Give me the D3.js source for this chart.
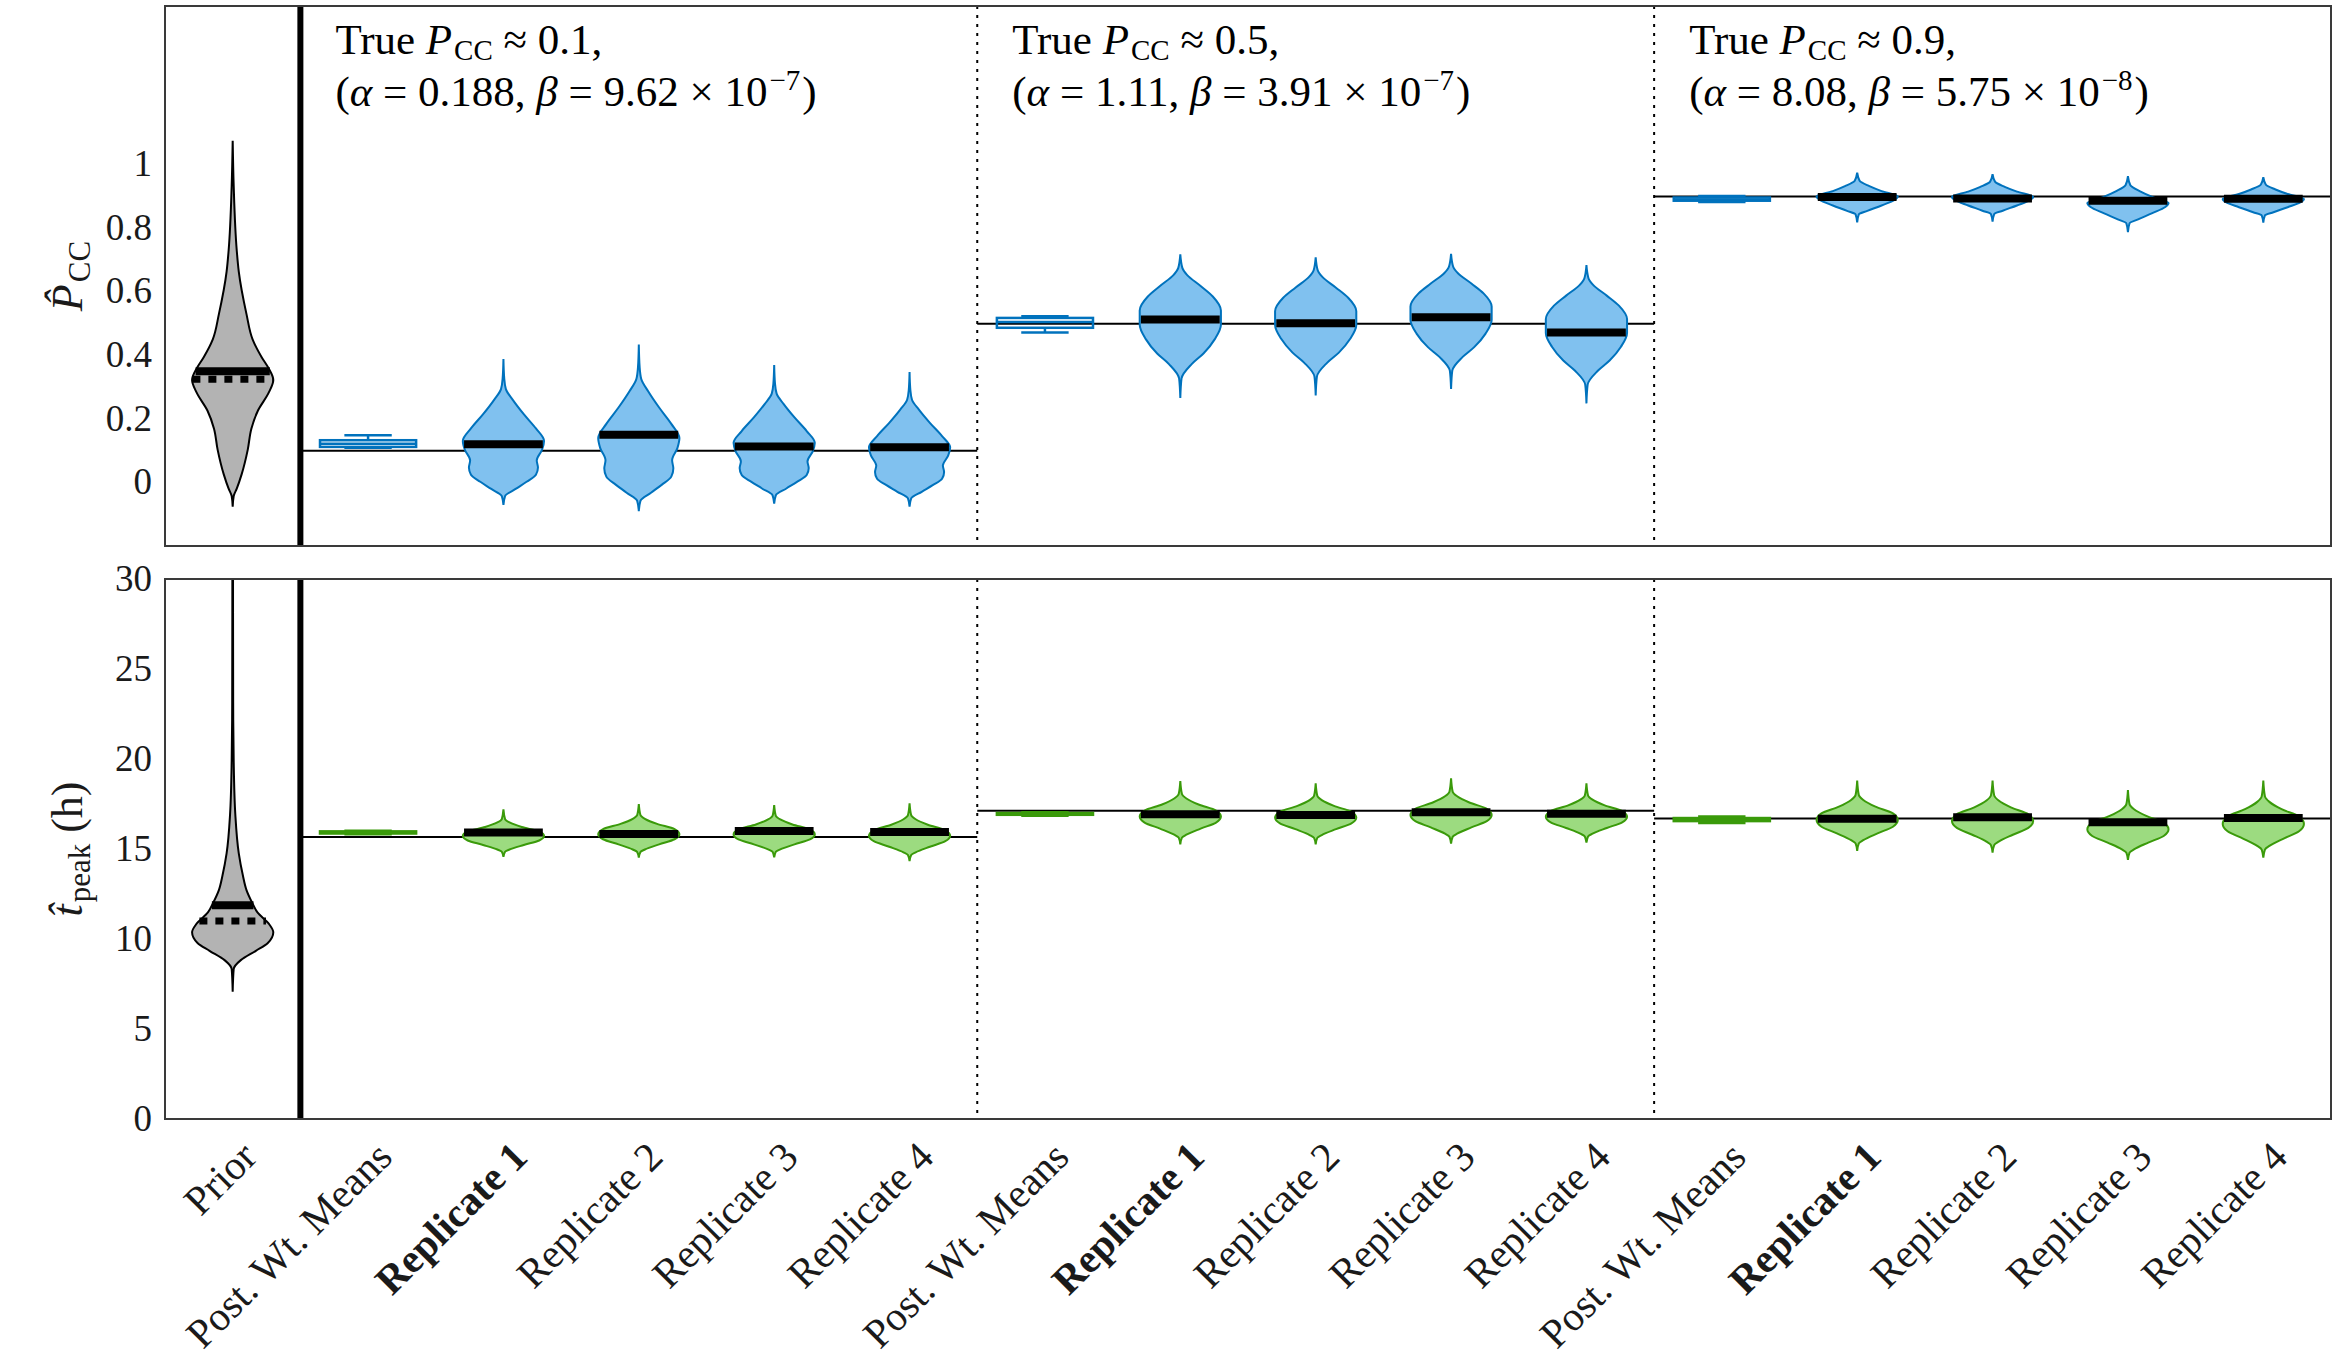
<!DOCTYPE html>
<html lang="en">
<head>
    <meta charset="UTF-8">
    <title>Violin plots of P_CC and t_peak</title>
    <style>
        body { margin: 0; background: #fff; }
        svg text { font-family: "Liberation Serif", "DejaVu Serif", serif; fill: #1a1a1a; }
        .frame { fill: none; stroke: #3a3a3a; stroke-width: 2; }
    </style>
    <script src="https://d3js.org/d3.v7.min.js"></script>
</head>
<body>
<script>
    // ---- data ----
    let categories = ["Prior",
        "Post. Wt. Means", "Replicate 1", "Replicate 2", "Replicate 3", "Replicate 4",
        "Post. Wt. Means", "Replicate 1", "Replicate 2", "Replicate 3", "Replicate 4",
        "Post. Wt. Means", "Replicate 1", "Replicate 2", "Replicate 3", "Replicate 4"];
    let boldCats = [2, 7, 12];

    let trueP = [0.1, 0.5, 0.9];
    let trueT = [15.66, 17.13, 16.70];
    let alphaText = ["0.188", "1.11", "8.08"];
    let betaMant = ["9.62", "3.91", "5.75"];
    let betaExp = ["\u22127", "\u22127", "\u22128"];

    let pTicks = [0, 0.2, 0.4, 0.6, 0.8, 1];
    let tTicks = [0, 5, 10, 15, 20, 25, 30];

    // prior violins: [lo, hi, mean, median]
    let priorP = [-0.076, 1.076, 0.35, 0.325];
    let priorT = [7.07, 30.5, 11.88, 11.0];

    // replicate violins (categories 2-5, 7-10, 12-15): lo, hi, mean
    let repCats = [2, 3, 4, 5, 7, 8, 9, 10, 12, 13, 14, 15];
    let pLo   = [-0.071, -0.090, -0.067, -0.076, 0.266, 0.274, 0.294, 0.249, 0.819, 0.821, 0.788, 0.818];
    let pHi   = [0.389, 0.434, 0.370, 0.348, 0.718, 0.709, 0.720, 0.684, 0.975, 0.971, 0.964, 0.961];
    let pMean = [0.120, 0.150, 0.113, 0.111, 0.513, 0.501, 0.520, 0.472, 0.899, 0.894, 0.887, 0.893];
    let tLo   = [14.57, 14.52, 14.54, 14.33, 15.26, 15.26, 15.30, 15.35, 14.90, 14.80, 14.39, 14.52];
    let tHi   = [17.20, 17.50, 17.44, 17.54, 18.78, 18.65, 18.93, 18.65, 18.80, 18.80, 18.28, 18.80];
    let tMean = [15.91, 15.83, 16.00, 15.94, 16.93, 16.89, 17.04, 16.96, 16.68, 16.76, 16.48, 16.72];

    // box plots of posterior weighted means: [lowWhisker, q1, median, q3, highWhisker]
    let boxCats = [1, 6, 11];
    let pBox = [[0.109, 0.112, 0.122, 0.133, 0.149],
                [0.472, 0.487, 0.505, 0.518, 0.523],
                [0.883, 0.887, 0.891, 0.897, 0.902]];
    let tBox = [[15.82, 15.86, 15.92, 15.98, 16.02],
                [16.85, 16.90, 16.96, 17.00, 17.04],
                [16.45, 16.55, 16.64, 16.72, 16.80]];

    // violin outlines: [relative position lo->hi, relative half width]
    let shapePriorP = [[0,0],[0.029,0.025],[0.049,0.1],[0.088,0.22],[0.155,0.37],[0.213,0.46],[0.262,0.62],
        [0.312,0.89],[0.346,1.0],[0.379,0.88],[0.409,0.71],[0.457,0.49],[0.526,0.34],[0.642,0.15],
        [0.7,0.1],[0.876,0.025],[1,0]];
    let shapePriorT = [[0,0],[0.054,0.025],[0.075,0.2],[0.097,0.57],[0.115,0.86],[0.141,1.0],[0.16,0.9],
        [0.188,0.61],[0.211,0.48],[0.241,0.34],[0.276,0.25],[0.328,0.15],[0.42,0.065],[0.546,0.025],
        [0.686,0.012],[1,0.008]];
    let shapeP1 = [[0,0],[0.061,0.04],[0.11,0.3],[0.159,0.57],[0.207,0.8],[0.256,0.85],[0.305,0.82],
        [0.378,0.95],[0.439,1.0],[0.524,0.8],[0.622,0.5],[0.72,0.23],[0.793,0.06],[0.866,0.02],[1,0]];
    let shapeP2 = [[0,0],[0.136,0.03],[0.236,0.28],[0.31,0.57],[0.41,0.85],[0.51,1.0],[0.61,1.0],
        [0.707,0.8],[0.78,0.5],[0.856,0.17],[0.906,0.05],[1,0]];
    let shapeP3 = [[0,0],[0.16,0.04],[0.23,0.25],[0.34,0.6],[0.45,0.92],[0.52,1.0],[0.63,0.6],
        [0.73,0.3],[0.84,0.06],[1,0]];
    let shapeT = [[0,0],[0.105,0.04],[0.152,0.15],[0.248,0.5],[0.343,0.88],[0.438,1.0],[0.533,0.88],
        [0.629,0.45],[0.724,0.15],[0.795,0.04],[1,0]];

    // ---- layout ----
    let W = 2333, H = 1371;
    let left = 165, right = 2331;
    let panels = [{top: 6, bottom: 546}, {top: 579, bottom: 1119}];
    let serif = "'Liberation Serif', 'DejaVu Serif', serif";

    let blue = {fill: "#80c1ef", stroke: "#0072bd"};
    let green = {fill: "#9cdb80", stroke: "#3a9a0a"};
    let grey = {fill: "#b3b3b3", stroke: "#000"};

    let svg = d3.select("body").append("svg")
        .attr("width", W).attr("height", H)
        .style("font-family", serif);

    let x = d3.scaleBand().domain(d3.range(categories.length)).range([left, right]).padding(0);
    let step = x.step();
    let cx = i => x(i) + step / 2;
    let halfMax = 0.3 * step;

    let yP = d3.scaleLinear().domain([-0.2, 1.5]).range([panels[0].bottom, panels[0].top]);
    let yT = d3.scaleLinear().domain([0, 30]).range([panels[1].bottom, panels[1].top]);

    function widthAt(shape, t) {
        for (let k = 1; k < shape.length; k++) {
            if (t <= shape[k][0]) {
                let a = shape[k - 1], b = shape[k];
                return a[1] + (b[1] - a[1]) * (t - a[0]) / (b[0] - a[0]);
            }
        }
        return 0;
    }

    function drawPanel(g, y, ticks, tickFmt, id) {
        let p = panels[id];
        svg.append("clipPath").attr("id", "clip" + id)
            .append("rect").attr("x", left).attr("y", p.top)
            .attr("width", right - left).attr("height", p.bottom - p.top);

        let yAxis = d3.axisLeft(y).tickValues(ticks).tickFormat(tickFmt).tickSize(0).tickPadding(13);
        let ag = g.append("g").attr("transform", "translate(" + left + ",0)").call(yAxis);
        ag.attr("font-family", null);
        ag.select(".domain").remove();
        ag.selectAll("text").style("font-size", "37px").attr("fill", "#1a1a1a")
            .style("font-family", serif).attr("dy", "0.3em");
        return g.append("g").attr("clip-path", "url(#clip" + id + ")");
    }

    function violin(g, i, lo, hi, shape, y, col) {
        let pts = shape.map(d => ({v: lo + d[0] * (hi - lo), w: d[1]}));
        let area = d3.area()
            .y(d => y(d.v))
            .x0(d => cx(i) - d.w * halfMax)
            .x1(d => cx(i) + d.w * halfMax)
            .curve(d3.curveMonotoneY);
        g.append("path").attr("d", area(pts))
            .attr("fill", col.fill).attr("stroke", col.stroke).attr("stroke-width", 2);
    }

    function bar(g, i, v, half, y, dashed) {
        let l = g.append("line")
            .attr("x1", cx(i) - half).attr("x2", cx(i) + half)
            .attr("y1", y(v)).attr("y2", y(v))
            .attr("stroke", "#000").attr("stroke-width", 8);
        if (dashed) l.attr("stroke-dasharray", "8,8").attr("stroke-width", 7);
    }

    function box(g, i, b, y, col) {
        let bw = 0.355 * step, cw = 0.175 * step;
        let bg = g.append("g").attr("stroke", col.stroke).attr("stroke-width", 2.5).attr("fill", "none");
        bg.append("line").attr("x1", cx(i)).attr("x2", cx(i)).attr("y1", y(b[0])).attr("y2", y(b[1]));
        bg.append("line").attr("x1", cx(i)).attr("x2", cx(i)).attr("y1", y(b[3])).attr("y2", y(b[4]));
        bg.append("line").attr("x1", cx(i) - cw).attr("x2", cx(i) + cw).attr("y1", y(b[0])).attr("y2", y(b[0]));
        bg.append("line").attr("x1", cx(i) - cw).attr("x2", cx(i) + cw).attr("y1", y(b[4])).attr("y2", y(b[4]));
        bg.append("rect").attr("x", cx(i) - bw).attr("width", 2 * bw)
            .attr("y", y(b[3])).attr("height", Math.max(1, y(b[1]) - y(b[3])));
        bg.append("line").attr("x1", cx(i) - bw).attr("x2", cx(i) + bw).attr("y1", y(b[2])).attr("y2", y(b[2]));
    }

    function separators(g, p) {
        [1, 6, 11].forEach((c, k) => {
            let sx = x(c);
            g.append("line").attr("x1", sx).attr("x2", sx).attr("y1", p.top).attr("y2", p.bottom)
                .attr("stroke", "#000")
                .attr("stroke-width", k === 0 ? 6 : 2)
                .attr("stroke-dasharray", k === 0 ? null : "3,6");
        });
    }

    function truthLines(g, y, vals) {
        vals.forEach((v, k) => {
            g.append("line")
                .attr("x1", x(1 + 5 * k)).attr("x2", k === 2 ? right : x(6 + 5 * k))
                .attr("y1", y(v)).attr("y2", y(v))
                .attr("stroke", "#000").attr("stroke-width", 2);
        });
    }

    // ---- top panel: P_CC ----
    let gTop = svg.append("g");
    let cTop = drawPanel(gTop, yP, pTicks, d3.format("~g"), 0);
    separators(cTop, panels[0]);
    truthLines(cTop, yP, trueP);
    violin(cTop, 0, priorP[0], priorP[1], shapePriorP, yP, grey);
    let tp = v => (v - priorP[0]) / (priorP[1] - priorP[0]);
    bar(cTop, 0, priorP[2], widthAt(shapePriorP, tp(priorP[2])) * halfMax, yP, false);
    bar(cTop, 0, priorP[3], widthAt(shapePriorP, tp(priorP[3])) * halfMax, yP, true);
    let pShapes = [shapeP1, shapeP2, shapeP3];
    repCats.forEach((c, k) => {
        violin(cTop, c, pLo[k], pHi[k], pShapes[Math.floor(k / 4)], yP, blue);
        bar(cTop, c, pMean[k], 0.97 * halfMax, yP, false);
    });
    boxCats.forEach((c, k) => box(cTop, c, pBox[k], yP, blue));

    // ---- bottom panel: t_peak ----
    let gBot = svg.append("g");
    let cBot = drawPanel(gBot, yT, tTicks, d3.format("d"), 1);
    separators(cBot, panels[1]);
    truthLines(cBot, yT, trueT);
    violin(cBot, 0, priorT[0], priorT[1], shapePriorT, yT, grey);
    let tt = v => (v - priorT[0]) / (priorT[1] - priorT[0]);
    bar(cBot, 0, priorT[2], widthAt(shapePriorT, tt(priorT[2])) * halfMax, yT, false);
    bar(cBot, 0, priorT[3], widthAt(shapePriorT, tt(priorT[3])) * halfMax, yT, true);
    repCats.forEach((c, k) => {
        violin(cBot, c, tLo[k], tHi[k], shapeT, yT, green);
        bar(cBot, c, tMean[k], 0.97 * halfMax, yT, false);
    });
    boxCats.forEach((c, k) => box(cBot, c, tBox[k], yT, green));

    // frames on top
    panels.forEach(p => {
        svg.append("rect").attr("class", "frame")
            .attr("x", left).attr("y", p.top).attr("width", right - left).attr("height", p.bottom - p.top);
    });

    // ---- annotations ----
    [1, 6, 11].forEach((c, k) => {
        let ax = x(c) + 35;
        let t1 = svg.append("text").attr("x", ax).attr("y", 54).style("font-size", "43px").style("fill", "#000");
        t1.append("tspan").text("True ");
        t1.append("tspan").attr("font-style", "italic").text("P");
        t1.append("tspan").attr("dx", 2).attr("dy", 6).style("font-size", "29px").text("CC");
        t1.append("tspan").attr("dy", -6).text(" \u2248 " + trueP[k] + ",");

        let t2 = svg.append("text").attr("x", ax).attr("y", 106).style("font-size", "43px").style("fill", "#000");
        t2.append("tspan").text("(");
        t2.append("tspan").attr("font-style", "italic").text("\u03b1");
        t2.append("tspan").text(" = " + alphaText[k] + ", ");
        t2.append("tspan").attr("font-style", "italic").text("\u03b2");
        t2.append("tspan").text(" = " + betaMant[k] + " \u00d7 10");
        t2.append("tspan").attr("dx", 2).attr("dy", -16).style("font-size", "29px").text(betaExp[k]);
        t2.append("tspan").attr("dx", 2).attr("dy", 16).text(")");
    });

    // ---- x labels ----
    let axisBottom = panels[1].bottom;
    svg.append("g").selectAll("text").data(categories).join("text")
        .attr("transform", (d, i) => "translate(" + (cx(i) + 16) + "," + (axisBottom + 30) + ") rotate(-45)")
        .attr("text-anchor", "end")
        .attr("dy", "0.35em")
        .style("font-size", "41px")
        .style("font-weight", (d, i) => boldCats.includes(i) ? "bold" : "normal")
        .text(d => d);

    // ---- y labels ----
    let yl1 = svg.append("text")
        .attr("transform", "translate(82," + ((panels[0].top + panels[0].bottom) / 2) + ") rotate(-90)")
        .attr("text-anchor", "middle").style("font-size", "44px");
    yl1.append("tspan").attr("font-style", "italic").text("P\u0302");
    yl1.append("tspan").attr("dx", 2).attr("dy", 8).style("font-size", "31px").text("CC");

    let yl2 = svg.append("text")
        .attr("transform", "translate(82," + ((panels[1].top + panels[1].bottom) / 2) + ") rotate(-90)")
        .attr("text-anchor", "middle").style("font-size", "44px");
    yl2.append("tspan").attr("font-style", "italic").text("t\u0302");
    yl2.append("tspan").attr("dx", 2).attr("dy", 8).style("font-size", "31px").text("peak");
    yl2.append("tspan").attr("dy", -8).text(" (h)");
</script>
</body>
</html>
